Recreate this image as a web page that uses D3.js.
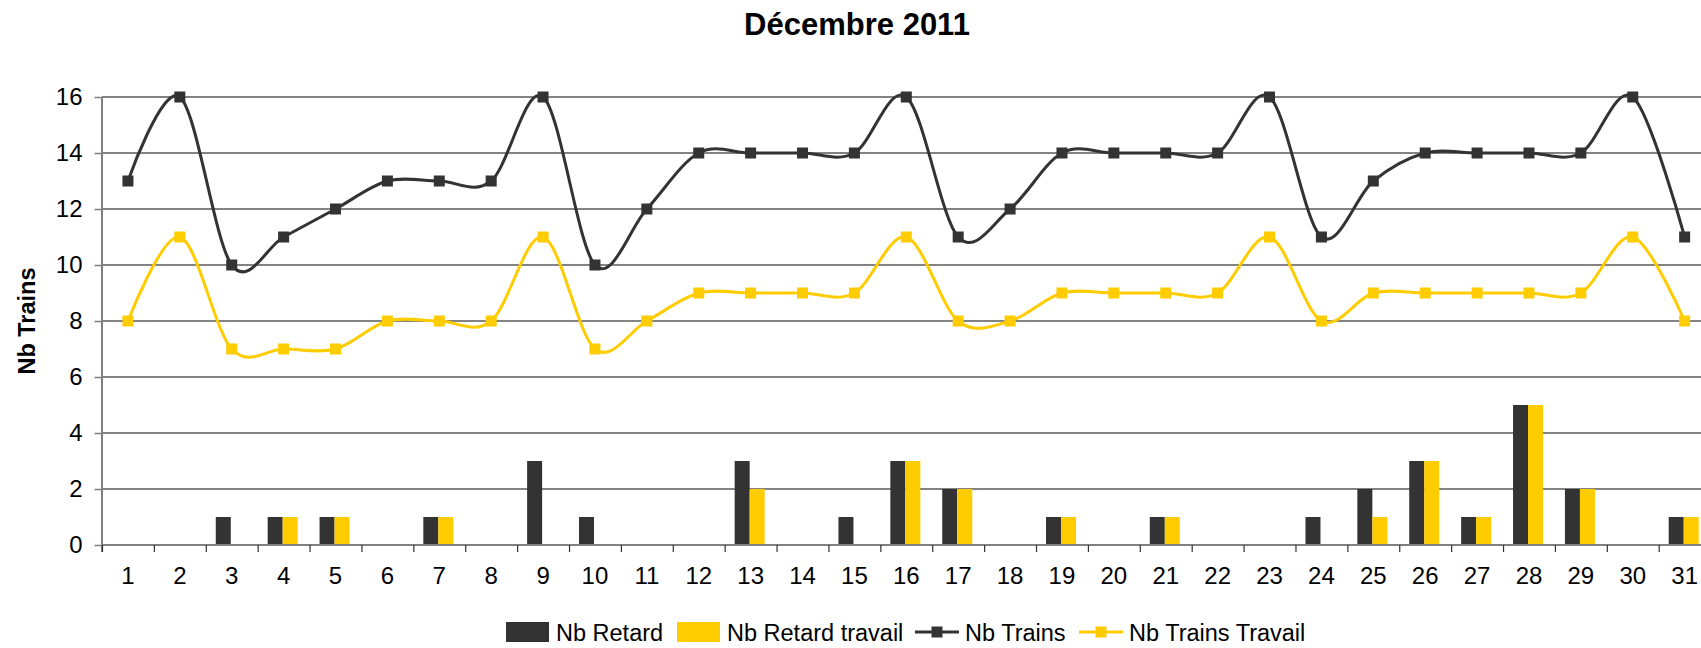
<!DOCTYPE html>
<html>
<head>
<meta charset="utf-8">
<script src="https://cdn.jsdelivr.net/npm/d3@7"></script>
<style>
  html, body { margin: 0; padding: 0; background: #fff; overflow: hidden; }
  svg { display: block; font-family: Arial, "Liberation Sans", sans-serif; }
</style>
</head>
<body>
<svg id="chart" width="1701" height="648"></svg>
<script>
const days = d3.range(1, 32).map(String);
const nbRetard        = [0,0,1,1,1,0,1,0,3,1,0,0,3,0,1,3,2,0,1,0,1,0,0,1,2,3,1,5,2,0,1];
const nbRetardTravail = [0,0,0,1,1,0,1,0,0,0,0,0,2,0,0,3,2,0,1,0,1,0,0,0,1,3,1,5,2,0,1];
const nbTrains        = [13,16,10,11,12,13,13,13,16,10,12,14,14,14,14,16,11,12,14,14,14,14,16,11,13,14,14,14,14,16,11];
const nbTrainsTravail = [8,11,7,7,7,8,8,8,11,7,8,9,9,9,9,11,8,8,9,9,9,9,11,8,9,9,9,9,9,11,8];
const yTicks = [0,2,4,6,8,10,12,14,16];
const seriesNames = ["Nb Retard", "Nb Retard travail", "Nb Trains", "Nb Trains Travail"];
const chartTitle = "Décembre 2011";
const yTitle = "Nb Trains";

const DARK = "#333333", YELLOW = "#FFCC00";
const svg = d3.select("#chart");
const plotLeft = 102, step = 51.89, plotTop = 97, plotBottom = 545;
const x = d3.scaleBand().domain(days).range([plotLeft, plotLeft + step * days.length]).padding(0);
const xBound = d3.scaleLinear().domain([0, days.length]).range([plotLeft, plotLeft + step * days.length]);
const y = d3.scaleLinear().domain([0, 16]).range([plotBottom, plotTop]);
const xSub = d3.scaleBand().domain(["r", "rt"]).range([10, 40]).padding(0);

// title
svg.append("text").attr("x", 857).attr("y", 35).attr("text-anchor", "middle")
  .attr("font-size", 31).attr("font-weight", "bold").attr("fill", "#000").text(chartTitle);

// y title
svg.append("text").attr("transform", "translate(27,321) rotate(-90)")
  .attr("text-anchor", "middle").attr("dominant-baseline", "central")
  .attr("font-size", 23.5).attr("font-weight", "bold").text(yTitle);

// gridlines
svg.append("g").selectAll("line").data(yTicks.filter(d => d > 0)).join("line")
  .attr("x1", plotLeft).attr("x2", 1701).attr("y1", d => y(d)).attr("y2", d => y(d))
  .attr("stroke", "#5a5a5a").attr("stroke-width", 1.4);

// bars
const barData = days.map((d, i) => ({ day: d, r: nbRetard[i], rt: nbRetardTravail[i] }));
const bars = svg.append("g");
bars.selectAll("rect.r").data(barData.filter(d => d.r > 0)).join("rect").attr("class", "r")
  .attr("x", d => x(d.day) + xSub("r")).attr("width", xSub.bandwidth())
  .attr("y", d => y(d.r)).attr("height", d => y(0) - y(d.r)).attr("fill", DARK);
bars.selectAll("rect.rt").data(barData.filter(d => d.rt > 0)).join("rect").attr("class", "rt")
  .attr("x", d => x(d.day) + xSub("rt")).attr("width", xSub.bandwidth())
  .attr("y", d => y(d.rt)).attr("height", d => y(0) - y(d.rt)).attr("fill", YELLOW);

// y axis
const yAxis = svg.append("g").attr("transform", `translate(${plotLeft},0)`)
  .call(d3.axisLeft(y).tickValues(yTicks).tickSize(7.5).tickPadding(12).tickFormat(d3.format("d")));
yAxis.select(".domain").attr("stroke", "#808080").attr("stroke-width", 2).attr("d", `M0,${plotTop}V${plotBottom + 7}`);
yAxis.selectAll(".tick line").attr("stroke", "#808080").attr("stroke-width", 1.5);
yAxis.selectAll("text").attr("font-size", 24).attr("fill", "#000").attr("font-family", "Arial, 'Liberation Sans', sans-serif");

// x axis ticks at boundaries
const xAxisTicks = svg.append("g").attr("transform", `translate(0,${plotBottom})`)
  .call(d3.axisBottom(xBound).tickValues(d3.range(0, days.length + 1)).tickSize(7).tickFormat(""));
xAxisTicks.select(".domain").attr("stroke", "#808080").attr("stroke-width", 2).attr("d", `M${plotLeft},0H1701`);
xAxisTicks.selectAll(".tick line").attr("stroke", "#333").attr("stroke-width", 1.2);

// x labels
const xLabels = svg.append("g").attr("transform", `translate(0,${plotBottom})`)
  .call(d3.axisBottom(x).tickSize(0).tickPadding(22));
xLabels.select(".domain").remove();
xLabels.selectAll("text").attr("font-size", 24).attr("fill", "#000").attr("font-family", "Arial, 'Liberation Sans', sans-serif");

// lines
const line = d3.line().x((d, i) => x(days[i]) + x.bandwidth() / 2).y(d => y(d)).curve(d3.curveCatmullRom.alpha(0));
function drawSeries(vals, color) {
  svg.append("path").datum(vals).attr("d", line).attr("fill", "none")
    .attr("stroke", color).attr("stroke-width", 3).attr("stroke-linejoin", "round");
  svg.append("g").selectAll("rect").data(vals).join("rect")
    .attr("x", (d, i) => x(days[i]) + x.bandwidth() / 2 - 5.5)
    .attr("y", d => y(d) - 5.5).attr("width", 11).attr("height", 11).attr("fill", color);
}
drawSeries(nbTrains, DARK);
drawSeries(nbTrainsTravail, YELLOW);

// legend
const lg = svg.append("g");
const ly = 632;
const legendItems = [
  { name: seriesNames[0], type: "bar", color: DARK, x: 506 },
  { name: seriesNames[1], type: "bar", color: YELLOW, x: 677 },
  { name: seriesNames[2], type: "line", color: DARK, x: 915 },
  { name: seriesNames[3], type: "line", color: YELLOW, x: 1079 }
];
legendItems.forEach(it => {
  if (it.type === "bar") {
    lg.append("rect").attr("x", it.x).attr("y", ly - 10).attr("width", 43).attr("height", 20).attr("fill", it.color);
  } else {
    lg.append("line").attr("x1", it.x).attr("x2", it.x + 44).attr("y1", ly).attr("y2", ly)
      .attr("stroke", it.color).attr("stroke-width", 3);
    lg.append("rect").attr("x", it.x + 22 - 5.5).attr("y", ly - 5.5).attr("width", 11).attr("height", 11).attr("fill", it.color);
  }
  lg.append("text").attr("x", it.x + 50).attr("y", ly + 8.5).attr("font-size", 23.5).attr("fill", "#000").text(it.name);
});
</script>
</body>
</html>
